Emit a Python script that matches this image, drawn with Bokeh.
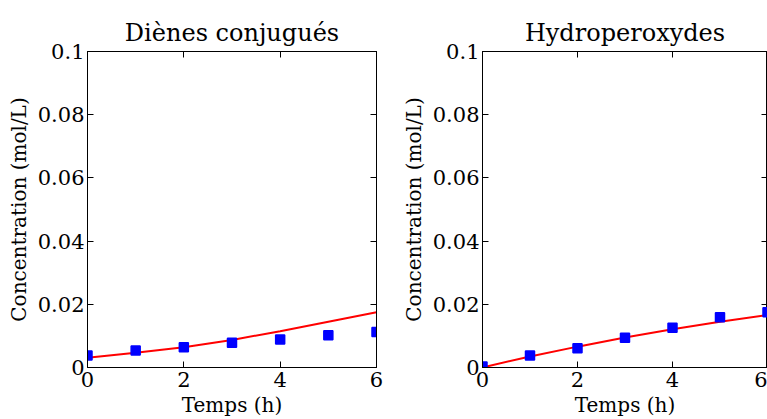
from bokeh.plotting import figure
from bokeh.layouts import row
from bokeh.models import LinearAxis, Range1d, FixedTicker
from bokeh.embed import file_html
from bokeh.resources import INLINE

hours = [0, 1, 2, 3, 4, 5, 6]
dienes_obs = [0.0038, 0.0054, 0.0064, 0.0078, 0.0089, 0.0102, 0.0112]
dienes_model = [0.0031, 0.0047, 0.0064, 0.0087, 0.0115, 0.0145, 0.0175]
hydro_obs = [0.0003, 0.0038, 0.0061, 0.0094, 0.0126, 0.0159, 0.0175]
hydro_model = [0.0000, 0.0035, 0.0066, 0.0095, 0.0121, 0.0145, 0.0166]
x_ticks = [0, 2, 4, 6]
y_ticks = [0, 0.02, 0.04, 0.06, 0.08, 0.1]
y_tick_labels = ["0", "0.02", "0.04", "0.06", "0.08", "0.1"]

FONT = "DejaVu Serif"


def make(title, obs, model, width, bl, br):
    p = figure(width=width, height=419, output_backend="svg", toolbar_location=None,
               x_range=Range1d(0, 6), y_range=Range1d(0, 0.1),
               min_border_left=bl, min_border_right=br, min_border_top=51, min_border_bottom=52)
    p.title.text = title
    p.title.align = "center"
    p.title.text_font = FONT
    p.title.text_font_size = "24px"
    p.title.text_font_style = "normal"
    p.title.text_color = "black"
    p.title.standoff = 10
    p.grid.visible = False
    p.outline_line_color = "black"
    p.outline_line_width = 1
    p.background_fill_color = "white"
    p.border_fill_color = "white"

    p.line(hours, model, line_color="red", line_width=2)
    p.scatter(hours, obs, marker="square", size=9, fill_color="blue",
              line_color="blue", line_width=1.5)

    bottom = p.below[0]
    left = p.left[0]
    bottom.ticker = FixedTicker(ticks=x_ticks)
    bottom.axis_label = "Temps (h)"
    left.ticker = FixedTicker(ticks=y_ticks)
    left.major_label_overrides = {t: l for t, l in zip(y_ticks, y_tick_labels)}
    left.axis_label = "Concentration (mol/L)"

    top = LinearAxis(ticker=FixedTicker(ticks=x_ticks),
                     major_label_overrides={t: "" for t in x_ticks})
    right = LinearAxis(ticker=FixedTicker(ticks=y_ticks),
                       major_label_overrides={t: "" for t in y_ticks})
    p.add_layout(top, "above")
    p.add_layout(right, "right")

    for ax in [bottom, left, top, right]:
        ax.major_tick_in = 6
        ax.major_tick_out = 0
        ax.minor_tick_line_color = None
        ax.axis_line_color = "black"
        ax.major_tick_line_color = "black"
        ax.major_label_text_font = FONT
        ax.major_label_text_color = "black"
        ax.major_label_text_font_size = "21px"
        ax.axis_label_text_font = FONT
        ax.axis_label_text_font_style = "normal"
        ax.axis_label_text_color = "black"
        ax.axis_label_text_font_size = "20px"
    bottom.major_label_standoff = 4
    left.major_label_standoff = 3
    bottom.axis_label_standoff = 3
    left.axis_label_standoff = 4
    top.major_label_standoff = 0
    right.major_label_standoff = 0
    return p


p1 = make("Diènes conjugués", dienes_obs, dienes_model, 398, 87, 22)
p2 = make("Hydroperoxydes", hydro_obs, hydro_model, 369, 80, 0)
layout = row(p1, p2, spacing=0)

with open("out.html", "w") as f:
    f.write(file_html(layout, INLINE))
